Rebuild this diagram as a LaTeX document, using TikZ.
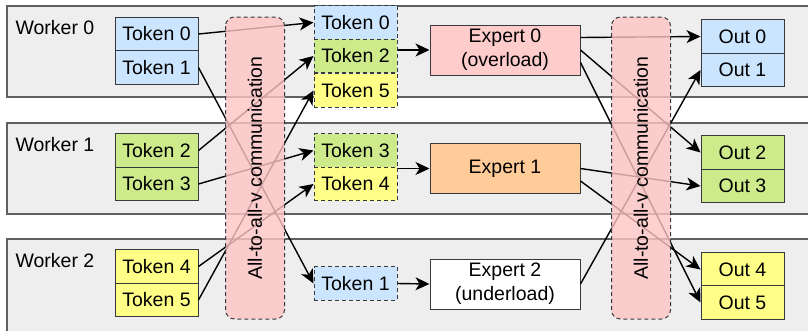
\documentclass[tikz,border=0pt]{standalone}
\usepackage{fontspec}
\setsansfont{Liberation Sans}
\usetikzlibrary{arrows.meta}

\definecolor{tokblue}{HTML}{CCE5FF}
\definecolor{tokgreen}{HTML}{CDEB8B}
\definecolor{tokyellow}{HTML}{FFFF88}
\definecolor{exppink}{HTML}{FFCCCC}
\definecolor{exporange}{HTML}{FFCC99}
\definecolor{commpink}{HTML}{FFC4C4}
\definecolor{bandgray}{HTML}{EEEEEE}
\definecolor{edgegray}{HTML}{36393D}

\begin{document}
\begin{tikzpicture}[x=1pt,y=-1pt,
	every node/.style={font=\sffamily\fontsize{19.5}{24}\selectfont},
	band/.style={draw=edgegray!80, line width=1.2pt, fill=bandgray},
	box/.style={draw=edgegray, line width=1pt, minimum width=83pt, minimum height=33.5pt, inner sep=0pt},
	sent/.style={box, dash pattern=on 4pt off 3pt},
	expert/.style={box, minimum width=150pt, minimum height=50pt, align=center},
	comm/.style={draw=edgegray, dash pattern=on 4pt off 3pt, line width=1pt, rounded corners=9pt,
		fill=commpink, fill opacity=0.8, text opacity=1, inner sep=0pt,
		minimum width=302pt, minimum height=59pt, rotate=90},
	route/.style={-{Stealth[length=14pt,width=13pt,inset=4pt]}, line width=1.4pt}
	]
	\useasboundingbox (0,0) rectangle (808,330);
	\clip (0,0) rectangle (808,330);

	% one band per worker
	\foreach \w/\ya/\yb in {0/6/97, 1/123/214, 2/239/332}
	{
		\draw[band] (7,\ya) rectangle (815,\yb);
		\node[anchor=west] (worker\w) at (12,\ya+22) {Worker \w};
	}

	% tokens before dispatch
	\foreach \t/\y/\c in {0/34/tokblue, 1/67.5/tokblue, 2/150.5/tokgreen,
		3/184/tokgreen, 4/266.5/tokyellow, 5/300/tokyellow}
	{
		\node[box, fill=\c] (tok\t) at (156.5,\y) {Token \t};
	}

	% tokens after dispatch
	\foreach \t/\y/\c in {0/22.5/tokblue, 2/56/tokgreen, 5/90.5/tokyellow,
		3/150.5/tokgreen, 4/184/tokyellow, 1/283.5/tokblue}
	{
		\node[sent, fill=\c] (recv\t) at (355.5,\y) {Token \t};
	}

	% experts
	\node[expert, fill=exppink] (exp0) at (505,50) {Expert 0\\(overload)};
	\node[expert, fill=exporange] (exp1) at (505,168.5) {Expert 1};
	\node[expert, fill=white] (exp2) at (505,284) {Expert 2\\(underload)};

	% outputs
	\foreach \t/\y/\c in {0/36.5/tokblue, 1/70/tokblue, 2/152.5/tokgreen,
		3/186/tokgreen, 4/269.5/tokyellow, 5/302.5/tokyellow}
	{
		\node[box, fill=\c] (out\t) at (742.5,\y) {Out \t};
	}

	% dispatch
	\foreach \t in {0,...,5}
	{
		\draw[route] (tok\t.east) -- (recv\t.west);
	}
	\draw[route] (recv2.east |- exp0.west) -- (exp0.west);
	\draw[route] (recv3.east |- exp1.west) -- (exp1.west);
	\draw[route] (recv1.east) -- (exp2.west);

	% combine
	\draw[route] ([yshift=12.5pt]exp0.east) -- (out0.west);
	\draw[route] (exp0.east) -- (out2.west);
	\draw[route] ([yshift=-12.5pt]exp0.east) -- (out5.west);
	\draw[route] (exp1.east) -- (out3.west);
	\draw[route] ([yshift=-12.5pt]exp1.east) -- (out4.west);
	\draw[route] (exp2.east) -- (out1.west);

	% all-to-all stages, drawn last so the routes show through
	\node[comm] (a2a0) at (255,168) {All-to-all-v communication};
	\node[comm] (a2a1) at (641,168) {All-to-all-v communication};
\end{tikzpicture}
\end{document}
